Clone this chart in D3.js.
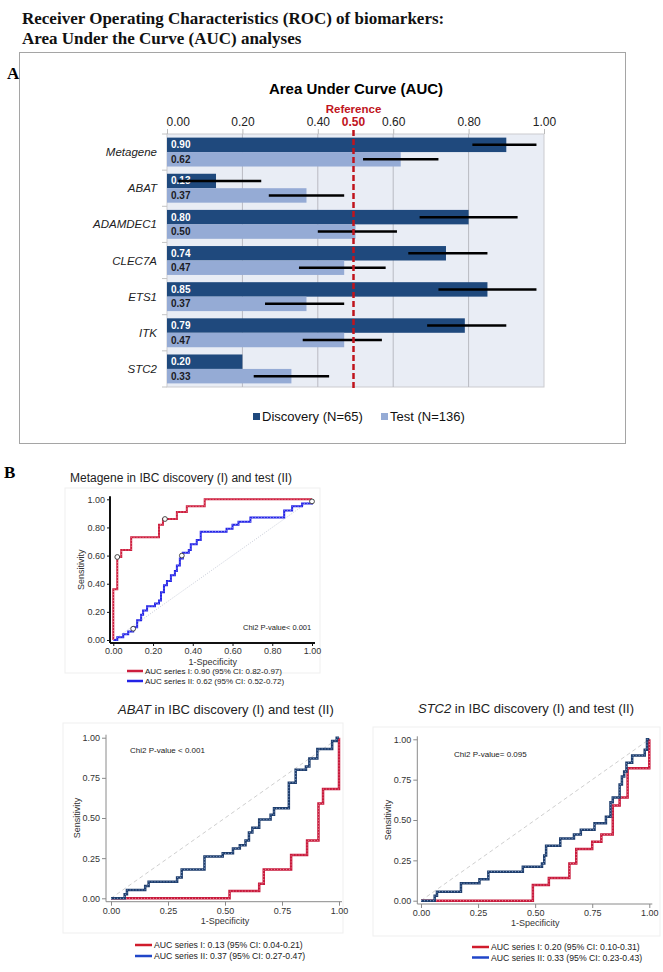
<!DOCTYPE html>
<html><head><meta charset="utf-8">
<script src="https://cdn.jsdelivr.net/npm/d3@7"></script>
<style>body{margin:0;background:#fff}svg{display:block}</style>
</head><body>
<svg id="c" width="663" height="972"></svg>
<script>
// ---------- DATA ----------
const titleLines = ["Receiver Operating Characteristics (ROC) of biomarkers:", "Area Under the Curve (AUC) analyses"];
const genes = ["Metagene","ABAT","ADAMDEC1","CLEC7A","ETS1","ITK","STC2"];
const seriesKeys = ["discovery","test"];
const seriesNames = ["Discovery (N=65)","Test (N=136)"];
const discoveryAUC = [0.90,0.13,0.80,0.74,0.85,0.79,0.20];
const testAUC = [0.62,0.37,0.50,0.47,0.37,0.47,0.33];
const discoveryCI = [[0.81,0.98],[0.03,0.25],[0.67,0.93],[0.64,0.85],[0.72,0.98],[0.69,0.90],null];
const testCI = [[0.52,0.72],[0.27,0.47],[0.40,0.61],[0.35,0.58],[0.26,0.47],[0.36,0.57],[0.23,0.43]];
const aucTicks = [0,0.2,0.4,0.6,0.8,1.0];
const referenceAUC = 0.50;

// ROC curves: [1-specificity, sensitivity] at each step
const metaI = [[0,0],[0,0.36],[0.02,0.59],[0.04,0.64],[0.09,0.73],[0.23,0.82],[0.25,0.86],[0.32,0.91],[0.37,0.95],[0.46,1.0],[1.0,1.0]];
const metaII = [[0,0],[0.02,0.02],[0.05,0.04],[0.075,0.06],[0.10,0.09],[0.12,0.14],[0.14,0.18],[0.15,0.21],[0.17,0.24],[0.21,0.26],[0.23,0.28],[0.24,0.34],[0.255,0.39],[0.27,0.42],[0.29,0.46],[0.31,0.49],[0.32,0.53],[0.335,0.58],[0.35,0.62],[0.38,0.64],[0.39,0.68],[0.42,0.71],[0.44,0.77],[0.57,0.79],[0.60,0.82],[0.63,0.84],[0.69,0.87],[0.86,0.92],[0.90,0.95],[0.95,0.97],[1.0,0.985]];
const metaMarkersI = [[0.02,0.59],[0.26,0.86]];
const metaMarkersII = [[0.10,0.08],[0.345,0.60],[1.0,0.985]];
const abatI = [[0,0],[0.52,0.045],[0.65,0.09],[0.67,0.18],[0.79,0.27],[0.86,0.36],[0.91,0.59],[0.93,0.68],[1.0,1.0]];
const abatII = [[0,0],[0.06,0.025],[0.07,0.052],[0.15,0.077],[0.165,0.103],[0.29,0.13],[0.31,0.18],[0.41,0.26],[0.49,0.28],[0.535,0.31],[0.565,0.33],[0.59,0.36],[0.605,0.41],[0.62,0.44],[0.65,0.49],[0.70,0.52],[0.715,0.56],[0.78,0.72],[0.81,0.80],[0.855,0.82],[0.87,0.87],[0.905,0.93],[0.97,0.98],[0.99,1.0],[1,1]];
const stc2I = [[0,0],[0.49,0.097],[0.56,0.14],[0.65,0.23],[0.68,0.32],[0.75,0.365],[0.79,0.41],[0.84,0.59],[0.87,0.64],[0.905,0.82],[1.0,1.0]];
const stc2II = [[0,0],[0.06,0.03],[0.07,0.056],[0.175,0.108],[0.256,0.133],[0.295,0.18],[0.446,0.21],[0.53,0.23],[0.54,0.28],[0.548,0.34],[0.61,0.386],[0.67,0.41],[0.70,0.44],[0.76,0.48],[0.81,0.52],[0.83,0.61],[0.84,0.64],[0.87,0.72],[0.88,0.77],[0.89,0.80],[0.90,0.855],[0.925,0.90],[0.98,0.935],[0.99,1.0],[1,1]];
const rocTicksMeta = [0,0.2,0.4,0.6,0.8,1.0];
const rocTicksQ = [0,0.25,0.5,0.75,1.0];
const metaLegend = ["AUC series I: 0.90 (95% CI: 0.82-0.97)","AUC series II: 0.62 (95% CI: 0.52-0.72)"];
const abatLegend = ["AUC series I: 0.13 (95% CI: 0.04-0.21)","AUC series II: 0.37 (95% CI: 0.27-0.47)"];
const stc2Legend = ["AUC series I: 0.20 (95% CI: 0.10-0.31)","AUC series II: 0.33 (95% CI: 0.23-0.43)"];

// ---------- DRAW ----------
const SANS = "'Liberation Sans', Arial, sans-serif";
const SERIF = "'Liberation Serif', 'Times New Roman', serif";
const svg = d3.select("#c");

svg.selectAll("text.title").data(titleLines).join("text")
  .attr("x", 22).attr("y", (d,i) => 24 + i*20)
  .attr("font-family", SERIF).attr("font-weight","bold").attr("font-size", 17).attr("fill","#111")
  .text(d => d);

// Panel A
svg.append("rect").attr("x",19.5).attr("y",52.5).attr("width",606).attr("height",391)
  .attr("fill","none").attr("stroke","#a5a5a5");
svg.append("text").attr("x",7).attr("y",79).attr("font-family",SERIF).attr("font-weight","bold")
  .attr("font-size",17).text("A");

const xA = d3.scaleLinear().domain([0,1]).range([167,544]);
const yA = d3.scaleBand().domain(genes).range([134,387]);
const yS = d3.scaleBand().domain(seriesKeys).range([0, yA.bandwidth()]).paddingOuter(0.25);

svg.append("text").attr("x",356).attr("y",94).attr("text-anchor","middle")
  .attr("font-family",SANS).attr("font-weight","bold").attr("font-size",15).text("Area Under Curve (AUC)");

svg.append("rect").attr("x",xA(0)).attr("y",134).attr("width",xA(1)-xA(0)).attr("height",253)
  .attr("fill","#e9edf5").attr("stroke","#cbcbcf");
svg.selectAll("line.grid").data(aucTicks.slice(1,-1)).join("line")
  .attr("x1",d=>xA(d)).attr("x2",d=>xA(d)).attr("y1",134).attr("y2",387)
  .attr("stroke","#b9bac2");

const axT = svg.append("g").attr("transform","translate(0,134)")
  .call(d3.axisTop(xA).tickValues(aucTicks).tickFormat(d3.format(".2f")).tickSize(5));
axT.select(".domain").remove();
axT.selectAll("line").attr("stroke","#bbb");
axT.selectAll("text").attr("font-family",SANS).attr("font-size",12).attr("fill","#222");
axT.selectAll("text").filter(d => d === 0).attr("text-anchor","start").attr("dx",-1);

// left ticks at band boundaries
const bounds = genes.map(g => yA(g)).concat([yA(genes[genes.length-1]) + yA.bandwidth()]);
svg.selectAll("line.lt").data(bounds).join("line")
  .attr("x1",xA(0)-5).attr("x2",xA(0)).attr("y1",d=>d).attr("y2",d=>d).attr("stroke","#c4c4c4");

svg.selectAll("text.cat").data(genes).join("text")
  .attr("x",157).attr("y",d=>yA(d)+yA.bandwidth()/2+4).attr("text-anchor","end")
  .attr("font-family",SANS).attr("font-style","italic").attr("font-size",11.5).attr("fill","#222")
  .text(d=>d);

const barRows = genes.flatMap((g,i) => [
  {g, s:"discovery", v:discoveryAUC[i], ci:discoveryCI[i]},
  {g, s:"test", v:testAUC[i], ci:testCI[i]}
]);
const barColor = {discovery:"#1f497d", test:"#95abd5"};
const bars = svg.append("g");
bars.selectAll("rect").data(barRows).join("rect")
  .attr("x",xA(0)).attr("y",d=>yA(d.g)+yS(d.s)).attr("height",yS.bandwidth())
  .attr("width",d=>xA(d.v)-xA(0)).attr("fill",d=>barColor[d.s]);
bars.selectAll("text").data(barRows).join("text")
  .attr("x",xA(0)+4).attr("y",d=>yA(d.g)+yS(d.s)+yS.bandwidth()/2+3.5)
  .attr("font-family",SANS).attr("font-weight","bold").attr("font-size",10)
  .attr("fill",d=>d.s==="discovery"?"#fff":"#1b1b24").text(d=>d3.format(".2f")(d.v));
bars.selectAll("line").data(barRows.filter(d=>d.ci)).join("line")
  .attr("x1",d=>xA(d.ci[0])).attr("x2",d=>xA(d.ci[1]))
  .attr("y1",d=>yA(d.g)+yS(d.s)+yS.bandwidth()/2).attr("y2",d=>yA(d.g)+yS(d.s)+yS.bandwidth()/2)
  .attr("stroke","#000").attr("stroke-width",2.5);

// reference line
svg.append("line").attr("x1",xA(referenceAUC)-2).attr("x2",xA(referenceAUC)-2).attr("y1",130).attr("y2",389)
  .attr("stroke","#c0141c").attr("stroke-width",2.5).attr("stroke-dasharray","6,3");
svg.append("text").attr("x",xA(referenceAUC)-2).attr("y",113).attr("text-anchor","middle")
  .attr("font-family",SANS).attr("font-weight","bold").attr("font-size",11.5).attr("fill","#c0141c").text("Reference");
svg.append("text").attr("x",xA(referenceAUC)-2).attr("y",126).attr("text-anchor","middle")
  .attr("font-family",SANS).attr("font-weight","bold").attr("font-size",12).attr("fill","#c0141c")
  .text(d3.format(".2f")(referenceAUC));

// legend A
const legA = svg.append("g");
const legX = [253, 381];
legA.selectAll("rect").data(seriesKeys).join("rect")
  .attr("x",(d,i)=>legX[i]).attr("y",413).attr("width",7).attr("height",7).attr("fill",d=>barColor[d]);
legA.selectAll("text").data(seriesNames).join("text")
  .attr("x",(d,i)=>legX[i]+9).attr("y",421).attr("font-family",SANS).attr("font-size",13).attr("fill","#111")
  .text(d=>d);

// Panel B
svg.append("text").attr("x",4).attr("y",478).attr("font-family",SERIF).attr("font-weight","bold")
  .attr("font-size",17).text("B");

function rocPanel(o) {
  const g = svg.append("g");
  if (o.box) g.append("rect").attr("x",o.box[0]).attr("y",o.box[1]).attr("width",o.box[2]).attr("height",o.box[3])
    .attr("fill","none").attr("stroke","#efefef");
  const x = d3.scaleLinear().domain([0,1]).range(o.xr);
  const y = d3.scaleLinear().domain([0,1]).range(o.yr);
  // title
  const t = g.append("text").attr("x",o.title.x).attr("y",o.title.y).attr("font-family",SANS)
    .attr("font-size",o.title.size).attr("fill","#222");
  if (o.title.italic) t.append("tspan").attr("font-style","italic").text(o.title.italic);
  t.append("tspan").text(o.title.rest);
  // diagonal
  g.append("line").attr("x1",x(0)).attr("y1",y(0)).attr("x2",x(1)).attr("y2",y(1))
    .attr("stroke",o.diagColor).attr("stroke-width",1).attr("stroke-dasharray",o.diagDash);
  // axes
  const yAx = g.append("g").attr("transform",`translate(${o.yAxisX},0)`)
    .call(d3.axisLeft(y).tickValues(o.ticks).tickFormat(d3.format(".2f")).tickSize(o.tickLen).tickPadding(2));
  const xAx = g.append("g").attr("transform",`translate(0,${o.xAxisY})`)
    .call(d3.axisBottom(x).tickValues(o.ticks).tickFormat(d3.format(".2f")).tickSize(o.tickLen).tickPadding(2));
  [yAx,xAx].forEach(a => {
    a.select(".domain").remove();
    a.selectAll("line").attr("stroke",o.axisColor);
    a.selectAll("text").attr("font-family",SANS).attr("font-size",9).attr("fill","#333");
  });
  g.append("line").attr("x1",o.yAxisX).attr("x2",o.yAxisX).attr("y1",y(1)-3).attr("y2",o.xAxisY)
    .attr("stroke",o.axisColor).attr("stroke-width",o.axisW);
  g.append("line").attr("x1",o.yAxisX).attr("x2",x(1)+3).attr("y1",o.xAxisY).attr("y2",o.xAxisY)
    .attr("stroke",o.axisColor).attr("stroke-width",o.axisW);
  g.append("text").attr("transform",`translate(${o.yAxisX-26},${(y(0)+y(1))/2}) rotate(-90)`)
    .attr("text-anchor","middle").attr("font-family",SANS).attr("font-size",9).attr("fill","#333").text("Sensitivity");
  g.append("text").attr("x",(x(0)+x(1))/2).attr("y",o.xAxisY+o.xLabelDy).attr("text-anchor","middle")
    .attr("font-family",SANS).attr("font-size",9).attr("fill","#333").text("1-Specificity");
  // curves (drawn in given order)
  const line = d3.line().x(d=>x(d[0])).y(d=>y(d[1])).curve(d3.curveStepAfter);
  o.drawOrder.forEach(i => {
    const c = o.curves[i];
    g.append("path").attr("d",line(c.data)).attr("fill","none").attr("stroke",c.color)
      .attr("stroke-width",c.width);
    if (c.dots) g.append("path").attr("d",line(c.data)).attr("fill","none").attr("stroke",c.dots)
      .attr("stroke-width",1).attr("stroke-dasharray","1,2");
  });
  (o.markers||[]).forEach(m => {
    g.selectAll(null).data(m).join("circle").attr("cx",d=>x(d[0])).attr("cy",d=>y(d[1])).attr("r",2.4)
      .attr("fill","#fff").attr("stroke","#333").attr("stroke-width",0.9);
  });
  // chi2
  g.append("text").attr("x",o.chi.x).attr("y",o.chi.y).attr("font-family",SANS).attr("font-size",o.chi.size)
    .attr("fill","#222").text(o.chi.text);
  // legend: series I then series II
  o.legend.forEach((txt,i) => {
    const ly = o.leg.y + i*o.leg.dy;
    g.append("line").attr("x1",o.leg.x).attr("x2",o.leg.x+o.leg.len).attr("y1",ly).attr("y2",ly)
      .attr("stroke",o.curves[i].legColor).attr("stroke-width",2.5);
    g.append("text").attr("x",o.leg.x+o.leg.len+2).attr("y",ly+3).attr("font-family",SANS)
      .attr("font-size",o.leg.size).attr("fill","#222").text(txt);
  });
}

rocPanel({
  box:[65,488,255,185],
  xr:[113.3,312], yr:[640,499.3], yAxisX:110, xAxisY:643, ticks:rocTicksMeta, tickLen:3,
  axisColor:"#111", axisW:2, xLabelDy:22,
  title:{x:70,y:482,size:12,italic:null,rest:"Metagene in IBC discovery (I) and test (II)"},
  diagColor:"#c8ccd8", diagDash:"1,1.5",
  curves:[{data:metaI,color:"#cc1d3d",width:2,legColor:"#cc1d3d",dots:"#ee8a9a"},
          {data:metaII,color:"#2323e6",width:2,legColor:"#2323e6",dots:"#8a8af5"}],
  drawOrder:[1,0],
  markers:[metaMarkersI, metaMarkersII],
  chi:{x:243,y:630,size:7.5,text:"Chi2 P-value< 0.001"},
  legend:metaLegend, leg:{x:127,y:671,dy:10,len:16,size:8}
});

rocPanel({
  box:[63,723,280,210],
  xr:[111,339], yr:[898.3,737.7], yAxisX:106, xAxisY:901.7, ticks:rocTicksQ, tickLen:4,
  axisColor:"#8a8a8a", axisW:1, xLabelDy:22,
  title:{x:118,y:714,size:13,italic:"ABAT",rest:" in IBC discovery (I) and test (II)"},
  diagColor:"#cfcfcf", diagDash:"4,3",
  curves:[{data:abatI,color:"#c81a3c",width:2.5,legColor:"#d01c2c",dots:"#e88a9a"},
          {data:abatII,color:"#1e3d6c",width:2.5,legColor:"#2046c8",dots:"#7f9cc8"}],
  drawOrder:[0,1],
  chi:{x:130,y:753,size:8,text:"Chi2 P-value < 0.001"},
  legend:abatLegend, leg:{x:135,y:945,dy:11,len:17,size:8.7}
});

rocPanel({
  box:[373,727,287,209],
  xr:[421,649.3], yr:[900.7,739.3], yAxisX:417.3, xAxisY:904, ticks:rocTicksQ, tickLen:4,
  axisColor:"#8a8a8a", axisW:1, xLabelDy:22,
  title:{x:418,y:713,size:13,italic:"STC2",rest:" in IBC discovery (I) and test (II)"},
  diagColor:"#cfcfcf", diagDash:"4,3",
  curves:[{data:stc2I,color:"#c81a3c",width:2.5,legColor:"#d01c2c",dots:"#e88a9a"},
          {data:stc2II,color:"#1e3d6c",width:2.5,legColor:"#2046c8",dots:"#7f9cc8"}],
  drawOrder:[0,1],
  chi:{x:454,y:757,size:8,text:"Chi2 P-value= 0.095"},
  legend:stc2Legend, leg:{x:472,y:947,dy:10.5,len:17,size:8.7}
});
</script>
</body></html>
